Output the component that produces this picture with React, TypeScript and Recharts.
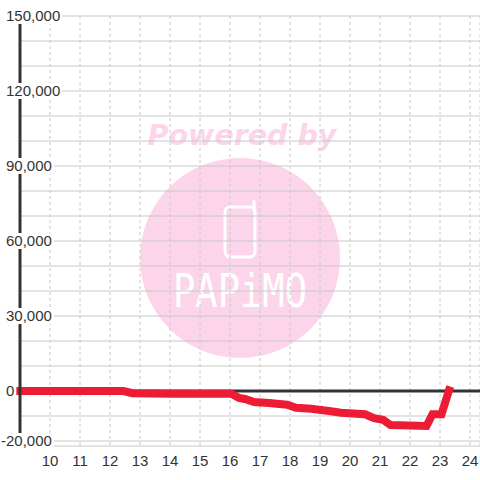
import { LineChart, Line, XAxis, YAxis, CartesianGrid, ReferenceLine } from 'recharts';

// hour of day -> running balance
const hours = [9, 12.45, 12.75, 14, 16.05, 16.3, 16.5, 16.8, 17.3, 17.9, 18.2, 18.7, 19.3, 19.7, 20.5, 20.8, 21.1, 21.35, 22.55, 22.75, 23.05, 23.3];
const balance = [0, 0, -900, -1100, -1100, -2800, -3200, -4400, -4800, -5500, -6700, -7100, -8000, -8700, -9300, -10900, -11500, -13600, -14000, -9300, -9300, 300];

const xTicks = [10, 11, 12, 13, 14, 15, 16, 17, 18, 19, 20, 21, 22, 23, 24];
const yTicks = [-20000, -10000, 0, 10000, 20000, 30000, 40000, 50000, 60000, 70000, 80000, 90000, 100000, 110000, 120000, 130000, 140000, 150000];
const yLabels = [150000, 120000, 90000, 60000, 30000, 0, -20000];

const data = hours.map((h, i) => ({ h, v: balance[i] }));

const FONT = '"Liberation Sans", Arial, sans-serif';

function labelWidth(s: string) {
  let w = 0;
  for (const c of s) w += c === ',' ? 4.17 : c === '-' ? 5 : 8.34;
  return w;
}

function YTick(props: any) {
  const { y, payload } = props;
  const v = payload.value;
  if (!yLabels.includes(v)) return <g />;
  const s = v.toLocaleString('en-US');
  const left = v < 0 ? 1 : 6;
  const w = labelWidth(s);
  return (
    <g>
      <rect x={left - 1} y={y - 8} width={w + 3} height={16} fill="#fff" />
      <text x={left} y={y} dy={5} fontSize={15} fill="#333" fontFamily={FONT}>
        {s}
      </text>
    </g>
  );
}

function Watermark() {
  return (
    <svg width={480} height={480} style={{ position: 'absolute', left: 0, top: 0 }}>
      <text
        x={242}
        y={145}
        textAnchor="middle"
        fontFamily='"DejaVu Sans", sans-serif'
        fontWeight="bold"
        fontStyle="italic"
        fontSize={28.5}
        fill="#fcd5ea"
      >
        Powered by
      </text>
      <circle cx={240} cy={258} r={100} fill="#fcd5ea" />
      <rect x={225} y={207} width={30} height={50} rx={5} fill="none" stroke="#fff" strokeWidth={3} />
      <line x1={254} y1={201} x2={254} y2={210} stroke="#fff" strokeWidth={3} strokeLinecap="round" />
      <text
        x={173}
        y={307}
        textLength={134}
        lengthAdjust="spacingAndGlyphs"
        fontFamily='"DejaVu Sans Mono", monospace'
        fontSize={46}
        fill="#fff"
      >
        PAPiMO
      </text>
    </svg>
  );
}

export default function App() {
  return (
    <div style={{ position: 'absolute', left: 0, top: 0, width: 480, height: 480, background: '#fff' }}>
      <Watermark />
      <div style={{ position: 'absolute', left: 0, top: 0 }}>
        <LineChart width={480} height={480} data={data} margin={{ top: 16, right: 0, left: 0, bottom: 0 }}>
          <CartesianGrid horizontal vertical={false} stroke="#c8c8c8" />
          <CartesianGrid horizontal={false} vertical stroke="#c8c8c8" strokeDasharray="3 3" />
          <XAxis
            dataKey="h"
            type="number"
            domain={[9, 24.333]}
            ticks={xTicks}
            interval={0}
            axisLine={false}
            tickLine={false}
            tickMargin={3}
            height={34}
            tick={{ fontSize: 15, fill: '#333', fontFamily: FONT }}
          />
          <YAxis
            type="number"
            domain={[-22000, 150000]}
            ticks={yTicks}
            interval={0}
            width={20}
            axisLine={{ stroke: '#333', strokeWidth: 3 }}
            tickLine={false}
            tick={<YTick />}
          />
          <ReferenceLine y={0} stroke="#333" strokeWidth={3} />
          <Line
            type="linear"
            dataKey="v"
            stroke="#ed1c34"
            strokeWidth={8}
            strokeLinecap="square"
            dot={false}
            activeDot={false}
            isAnimationActive={false}
          />
        </LineChart>
      </div>
    </div>
  );
}
